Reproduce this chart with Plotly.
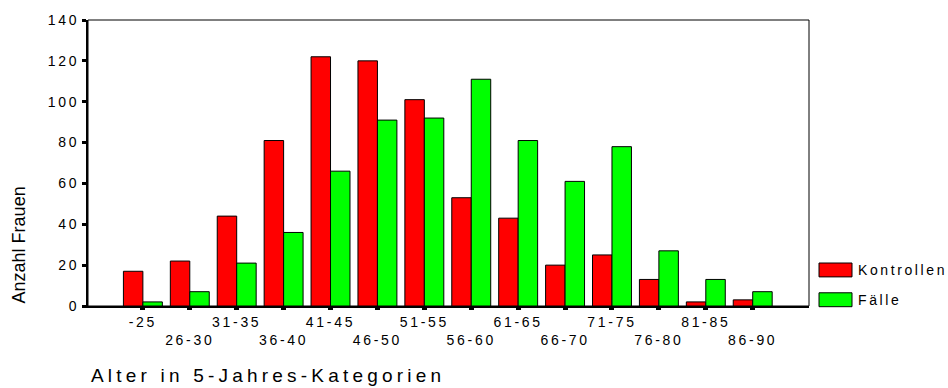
import json
import plotly.graph_objects as go

categories = ["-25", "26-30", "31-35", "36-40", "41-45", "46-50", "51-55",
              "56-60", "61-65", "66-70", "71-75", "76-80", "81-85", "86-90"]
kontrollen = [17, 22, 44, 81, 122, 120, 101, 53, 43, 20, 25, 13, 2, 3]
faelle = [2, 7, 21, 36, 66, 91, 92, 111, 81, 61, 78, 27, 13, 7]
series_names = ["Kontrollen", "Fälle"]
series_colors = ["#FF0000", "#00FF00"]
y_ticks = [0, 20, 40, 60, 80, 100, 120, 140]
x_title = "Alter in 5-Jahres-Kategorien"
y_title = "Anzahl Frauen"

W, H = 948, 388
L, R, T, B = 88, 139, 18, 82
pw = W - L - R
ph = H - T - B


def px_x(px):
    return (px - L) / pw


def px_y(py):
    return (H - B - py) / ph


FONT = "Liberation Sans, Arial, Helvetica, sans-serif"

fig = go.Figure()
for name, vals, col in zip(series_names, [kontrollen, faelle], series_colors):
    fig.add_trace(go.Bar(x=categories, y=vals, name=name, showlegend=False,
                         marker=dict(color=col, line=dict(color="black", width=1))))

ticktext = [c if i % 2 == 0 else "<br>" + c for i, c in enumerate(categories)]

fig.update_layout(
    width=W, height=H, margin=dict(l=L, r=R, t=T, b=B),
    plot_bgcolor="white", paper_bgcolor="white",
    barmode="group", bargap=0.17, bargroupgap=0,
    font=dict(family=FONT, color="black", size=14),
)
fig.update_xaxes(type="category", range=[-1.17, 14.2], tickmode="array",
                 tickvals=categories, ticktext=ticktext,
                 ticks="outside", ticklen=2, tickwidth=5, tickcolor="black",
                 showline=True, linecolor="black", linewidth=2,
                 showgrid=False, zeroline=False, tickfont=dict(size=14))
fig.update_yaxes(range=[0, 140], tickmode="array", tickvals=y_ticks,
                 ticks="outside", ticklen=4, tickwidth=3, tickcolor="black",
                 ticklabelstandoff=0,
                 showline=True, linecolor="black", linewidth=2,
                 showgrid=False, zeroline=False, tickfont=dict(size=14))

# frame (top / right)
fig.add_shape(type="rect", xref="x domain", yref="y domain", x0=0, x1=1, y0=0, y1=1,
              line=dict(color="black", width=1), layer="below")

# custom legend
legend_rows = [262.7, 292.7]
for name, col, top in zip(series_names, series_colors, legend_rows):
    fig.add_shape(type="rect", xref="paper", yref="paper",
                  x0=px_x(819), x1=px_x(852), y0=px_y(top + 14), y1=px_y(top),
                  fillcolor=col, line=dict(color="black", width=1))
    fig.add_annotation(text=name, xref="paper", yref="paper", x=px_x(856), y=px_y(top + 7.5),
                       xanchor="left", yanchor="middle", align="left", showarrow=False,
                       font=dict(size=14, color="black"))

fig.add_annotation(text=x_title, xref="paper", yref="paper", x=px_x(89), y=px_y(376),
                   xanchor="left", yanchor="middle", align="left", showarrow=False,
                   font=dict(size=19, color="black"))
fig.add_annotation(text=y_title, xref="paper", yref="paper", x=px_x(19), y=px_y(245),
                   xanchor="center", yanchor="middle", showarrow=False, textangle=-90,
                   font=dict(size=18, color="black"))

post = (
    "document.documentElement.style.margin='0';document.body.style.margin='0';"
    "document.body.style.padding='0';"
    "var gd=document.getElementById('{plot_id}');"
    "gd.querySelectorAll('.xtick text, .ytick text').forEach(function(e){e.style.letterSpacing='2.7px';});"
    "gd.querySelectorAll('.annotation-text').forEach(function(e){var t=e.textContent;"
    "if(t===" + json.dumps(x_title) + "){e.style.letterSpacing='4.2px';}"
    "else if(t!==" + json.dumps(y_title) + "){e.style.letterSpacing='2.6px';}});"
)

fig.write_html("out.html", post_script=post, config={"displayModeBar": False})
